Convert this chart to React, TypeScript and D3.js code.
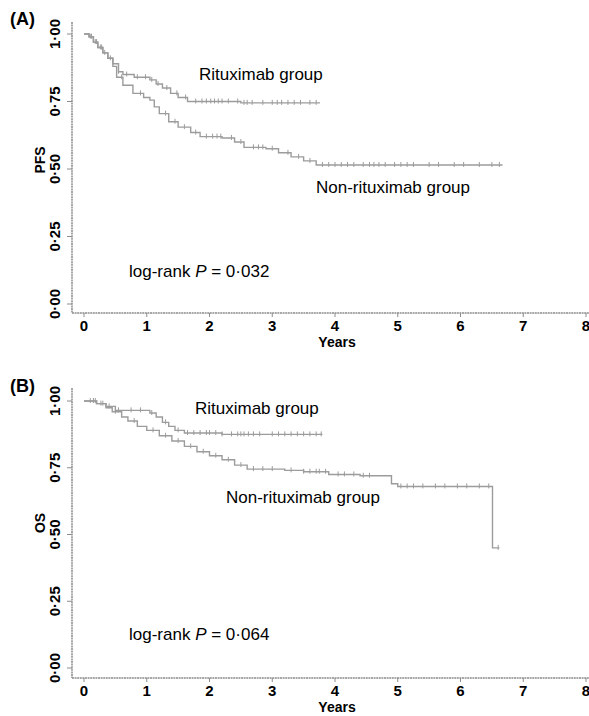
import React from 'react';
import * as d3 from 'd3';

// Kaplan-Meier step points [years, survival]
const pfsRituximab: [number, number][] = [
  [0, 1], [0.08, 0.99], [0.15, 0.97], [0.22, 0.95], [0.3, 0.93], [0.38, 0.91], [0.46, 0.89],
  [0.55, 0.86], [0.62, 0.85], [0.8, 0.84], [1.05, 0.83], [1.15, 0.815], [1.25, 0.8],
  [1.38, 0.78], [1.5, 0.765], [1.65, 0.75], [2.5, 0.745], [3.76, 0.745],
];
const pfsNonRituximab: [number, number][] = [
  [0, 1], [0.08, 0.99], [0.15, 0.97], [0.22, 0.95], [0.3, 0.93], [0.38, 0.91], [0.46, 0.88],
  [0.52, 0.84], [0.62, 0.81], [0.78, 0.78], [0.95, 0.765], [1.05, 0.755], [1.12, 0.73],
  [1.2, 0.705], [1.35, 0.675], [1.5, 0.655], [1.7, 0.635], [1.85, 0.62], [2.2, 0.615],
  [2.4, 0.6], [2.55, 0.58], [2.9, 0.575], [3.1, 0.56], [3.3, 0.545], [3.5, 0.53],
  [3.7, 0.515], [6.67, 0.515],
];
const osRituximab: [number, number][] = [
  [0, 1], [0.2, 0.99], [0.35, 0.98], [0.5, 0.965], [1.05, 0.955], [1.15, 0.94], [1.25, 0.92],
  [1.35, 0.905], [1.45, 0.89], [1.6, 0.88], [2.2, 0.875], [3.8, 0.875],
];
const osNonRituximab: [number, number][] = [
  [0, 1], [0.2, 0.99], [0.35, 0.975], [0.45, 0.96], [0.6, 0.94], [0.7, 0.925], [0.85, 0.905],
  [1.0, 0.89], [1.2, 0.87], [1.4, 0.85], [1.6, 0.83], [1.8, 0.81], [2.0, 0.795], [2.2, 0.78],
  [2.4, 0.76], [2.6, 0.745], [3.2, 0.74], [3.5, 0.735], [3.9, 0.725], [4.4, 0.72],
  [4.9, 0.69], [5.0, 0.68], [6.51, 0.45], [6.62, 0.45],
];

// censoring times (years)
const pfsRitCensor = [0.12, 0.2, 0.28, 0.42, 0.55, 0.68, 0.85, 0.98, 1.08, 1.18, 1.32, 1.48, 1.62, 1.78, 1.88, 1.95, 2.02, 2.08, 2.14, 2.2, 2.3, 2.45, 2.55, 2.6, 2.68, 2.85, 3.0, 3.08, 3.15, 3.25, 3.35, 3.45, 3.6, 3.7];
const pfsNonCensor = [0.1, 0.18, 0.26, 0.33, 0.6, 0.9, 1.3, 1.45, 1.6, 1.78, 1.95, 2.05, 2.12, 2.18, 2.35, 2.5, 2.7, 2.78, 2.85, 3.0, 3.25, 3.42, 3.6, 3.8, 3.9, 4.0, 4.1, 4.2, 4.3, 4.45, 4.55, 4.62, 4.7, 4.8, 4.95, 5.05, 5.15, 5.25, 5.5, 5.65, 5.9, 6.05, 6.3, 6.5, 6.62];
const osRitCensor = [0.1, 0.18, 0.27, 0.4, 0.55, 0.75, 0.9, 1.08, 1.3, 1.5, 1.65, 1.75, 1.85, 1.95, 2.0, 2.1, 2.2, 2.35, 2.45, 2.5, 2.55, 2.62, 2.7, 2.8, 3.0, 3.1, 3.2, 3.3, 3.4, 3.5, 3.6, 3.7, 3.78];
const osNonCensor = [0.15, 0.3, 0.5, 0.8, 1.1, 1.3, 1.5, 1.7, 1.9, 2.1, 2.3, 2.5, 2.7, 2.85, 3.0, 3.3, 3.5, 3.6, 3.7, 3.75, 3.85, 4.05, 4.15, 4.3, 4.45, 4.55, 5.05, 5.15, 5.25, 5.4, 5.6, 5.75, 5.95, 6.1, 6.3, 6.45, 6.6];

const xTicks = [0, 1, 2, 3, 4, 5, 6, 7, 8];
const yTicks = [0, 0.25, 0.5, 0.75, 1];
const yTickLabels = ['0·00', '0·25', '0·50', '0·75', '1·00'];

const FONT = 'Liberation Sans, Arial, sans-serif';
const CURVE = '#9c9c9c';
const AXIS = '#8c8c8c';

const stepValue = (pts: [number, number][], t: number) => {
  let s = pts[0][1];
  for (const p of pts) if (p[0] <= t) s = p[1];
  return s;
};

type PanelProps = {
  tag: string;
  yTitle: string;
  pText: string;
  top: number;
  bottom: number;
  axisTop: number;
  axisY: number;
  rit: [number, number][];
  non: [number, number][];
  ritCensor: number[];
  nonCensor: number[];
  ritLabel: [number, number];
  nonLabel: [number, number];
  pY: number;
  yTitleY: number;
};

const x = d3.scaleLinear().domain([0, 8]).range([84, 586]);

const Panel = (p: PanelProps) => {
  const y = d3.scaleLinear().domain([0, 1]).range([p.bottom, p.top]);
  const line = d3.line<[number, number]>()
    .x(d => x(d[0]))
    .y(d => y(d[1]))
    .curve(d3.curveStepAfter);
  const censor = (pts: [number, number][], times: number[]) =>
    times.map((t, i) => {
      const cx = x(t);
      const cy = y(stepValue(pts, t));
      return <line key={i} x1={cx} x2={cx} y1={cy - 3} y2={cy + 2} stroke={CURVE} strokeWidth={1} />;
    });
  return (
    <g>
      <text x={10} y={p.top - 9} fontFamily={FONT} fontWeight="bold" fontSize={18}>{p.tag}</text>
      {/* y axis */}
      <line x1={72} x2={72} y1={p.axisTop} y2={p.axisY} stroke={AXIS} strokeWidth={1.5} strokeDasharray="2 0.6" />
      {yTicks.map((t, i) => (
        <g key={t}>
          <line x1={67} x2={72} y1={y(t)} y2={y(t)} stroke={AXIS} strokeWidth={1} />
          <text transform={`translate(60,${y(t)}) rotate(-90)`} textAnchor="middle" fontFamily={FONT}
            fontWeight="bold" fontSize={15}>{yTickLabels[i]}</text>
        </g>
      ))}
      <text transform={`translate(45,${p.yTitleY}) rotate(-90)`} textAnchor="middle" fontFamily={FONT}
        fontWeight="bold" fontSize={14}>{p.yTitle}</text>
      {/* x axis */}
      <line x1={72} x2={589} y1={p.axisY} y2={p.axisY} stroke={AXIS} strokeWidth={1.5} strokeDasharray="2 0.6" />
      {xTicks.map(t => (
        <g key={t}>
          <line x1={x(t)} x2={x(t)} y1={p.axisY} y2={p.axisY + 4} stroke={AXIS} strokeWidth={1} />
          <text x={x(t)} y={p.axisY + 18} textAnchor="middle" fontFamily={FONT} fontWeight="bold" fontSize={15}>{t}</text>
        </g>
      ))}
      <text x={x(4) + 2} y={p.axisY + 34} textAnchor="middle" fontFamily={FONT} fontWeight="bold" fontSize={14}>Years</text>
      {/* curves */}
      <path d={line(p.non) || ''} fill="none" stroke={CURVE} strokeWidth={1.4} />
      <path d={line(p.rit) || ''} fill="none" stroke={CURVE} strokeWidth={1.4} />
      {censor(p.non, p.nonCensor)}
      {censor(p.rit, p.ritCensor)}
      <text x={p.ritLabel[0]} y={p.ritLabel[1]} fontFamily={FONT} fontSize={17}>Rituximab group</text>
      <text x={p.nonLabel[0]} y={p.nonLabel[1]} fontFamily={FONT} fontSize={17}>Non-rituximab group</text>
      <text x={129} y={p.pY} fontFamily={FONT} fontSize={17}>
        log-rank <tspan fontStyle="italic">P</tspan> = {p.pText}
      </text>
    </g>
  );
};

export default function App() {
  return (
    <svg width={589} height={716} style={{ position: 'absolute', left: 0, top: 0, background: '#fff' }}>
      <rect width={589} height={716} fill="#fff" />
      <Panel tag="(A)" yTitle="PFS" pText="0·032" top={34} bottom={304} axisTop={22} axisY={313}
        rit={pfsRituximab} non={pfsNonRituximab} ritCensor={pfsRitCensor} nonCensor={pfsNonCensor}
        ritLabel={[199, 80]} nonLabel={[316, 193]} pY={277} yTitleY={160} />
      <Panel tag="(B)" yTitle="OS" pText="0·064" top={401} bottom={668} axisTop={388} axisY={678}
        rit={osRituximab} non={osNonRituximab} ritCensor={osRitCensor} nonCensor={osNonCensor}
        ritLabel={[195, 414]} nonLabel={[226, 503]} pY={640} yTitleY={523} />
    </svg>
  );
}
